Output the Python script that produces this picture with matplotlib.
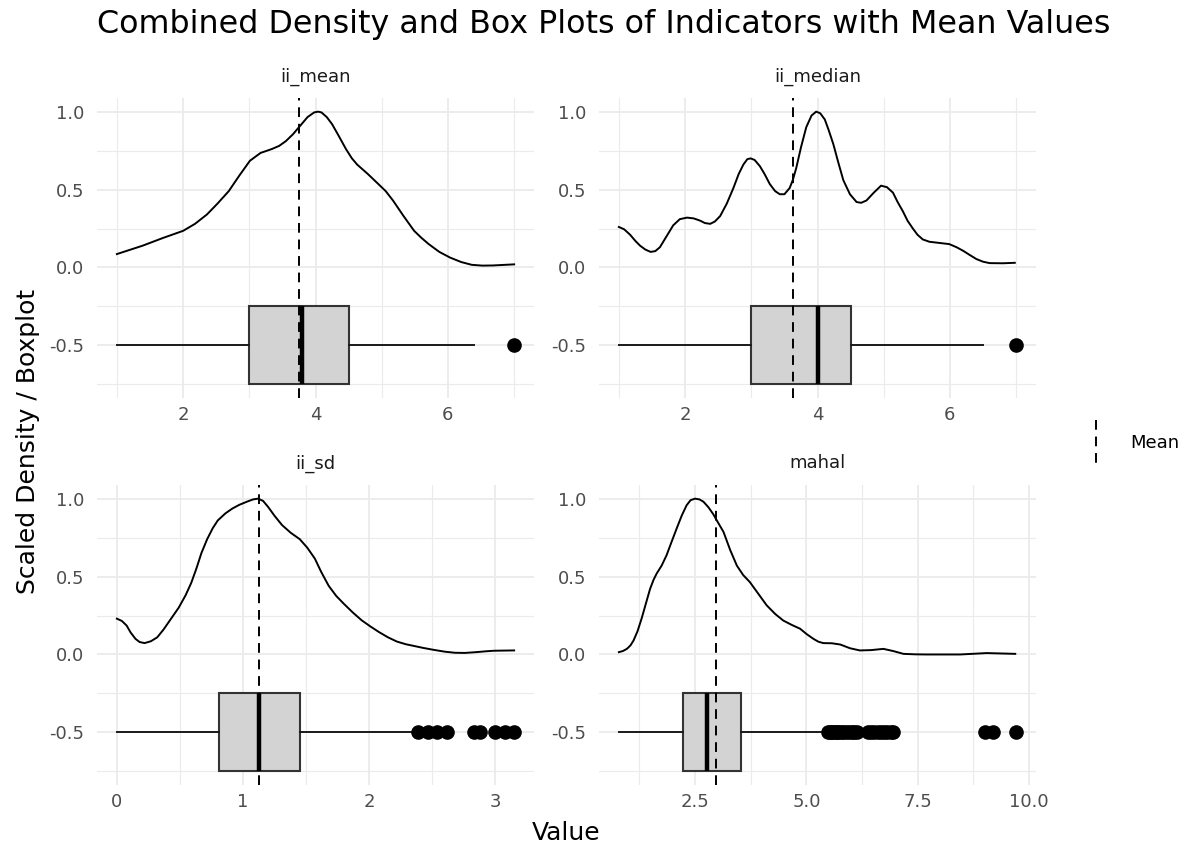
import matplotlib
matplotlib.use("Agg")
import matplotlib.pyplot as plt
from matplotlib.lines import Line2D
from matplotlib.ticker import MultipleLocator

# ---- data ----
panels = ["ii_mean", "ii_median", "ii_sd", "mahal"]

dens_ii_mean_x = [1.0, 1.39, 1.7, 2.0, 2.18, 2.36, 2.52, 2.69, 2.85, 3.01, 3.17, 3.34,
                  3.45, 3.55, 3.66, 3.77, 3.88, 3.98, 4.04, 4.09, 4.17, 4.25, 4.35,
                  4.46, 4.55, 4.63, 4.79, 4.95, 5.06, 5.17, 5.33, 5.49, 5.60, 5.71,
                  5.87, 6.03, 6.2, 6.36, 6.52, 6.68, 7.0]
dens_ii_mean_y = [0.086, 0.14, 0.19, 0.235, 0.28, 0.34, 0.41, 0.49, 0.59, 0.685, 0.735,
                  0.76, 0.78, 0.81, 0.855, 0.91, 0.965, 0.995, 1.0, 0.995, 0.965, 0.92,
                  0.845, 0.76, 0.70, 0.66, 0.60, 0.535, 0.49, 0.43, 0.33, 0.235, 0.19,
                  0.15, 0.10, 0.064, 0.035, 0.017, 0.012, 0.013, 0.02]

dens_ii_median_x = [1.0, 1.08, 1.17, 1.25, 1.32, 1.40, 1.48, 1.55, 1.62, 1.72, 1.82,
                    1.92, 2.03, 2.13, 2.23, 2.30, 2.38, 2.45, 2.53, 2.63, 2.73, 2.81,
                    2.88, 2.94, 2.99, 3.05, 3.13, 3.20, 3.28, 3.36, 3.43, 3.50, 3.58,
                    3.63, 3.68, 3.75, 3.83, 3.91, 3.98, 4.04, 4.11, 4.17, 4.24, 4.31,
                    4.39, 4.49, 4.59, 4.66, 4.74, 4.85, 4.96, 5.05, 5.14, 5.21, 5.29,
                    5.36, 5.44, 5.51, 5.59, 5.69, 5.79, 5.89, 5.99, 6.10, 6.20, 6.30,
                    6.40, 6.50, 6.60, 6.80, 6.98]
dens_ii_median_y = [0.26, 0.245, 0.21, 0.17, 0.14, 0.115, 0.10, 0.105, 0.13, 0.20, 0.27,
                    0.31, 0.32, 0.315, 0.30, 0.285, 0.28, 0.295, 0.33, 0.41, 0.51, 0.60,
                    0.66, 0.695, 0.70, 0.69, 0.65, 0.60, 0.535, 0.49, 0.47, 0.47, 0.51,
                    0.565, 0.64, 0.77, 0.90, 0.975, 1.0, 0.99, 0.95, 0.88, 0.79, 0.68,
                    0.56, 0.47, 0.42, 0.415, 0.43, 0.48, 0.525, 0.515, 0.48, 0.42, 0.36,
                    0.30, 0.25, 0.21, 0.18, 0.165, 0.16, 0.155, 0.15, 0.13, 0.107, 0.08,
                    0.054, 0.037, 0.028, 0.027, 0.03]

dens_ii_sd_x = [0.0, 0.04, 0.077, 0.11, 0.148, 0.18, 0.22, 0.27, 0.32, 0.37, 0.43,
                0.49, 0.545, 0.59, 0.63, 0.67, 0.716, 0.76, 0.80, 0.86, 0.915, 0.97,
                1.03, 1.08, 1.12, 1.16, 1.20, 1.25, 1.31, 1.38, 1.45, 1.51, 1.57,
                1.62, 1.68, 1.74, 1.80, 1.87, 1.94, 2.01, 2.08, 2.15, 2.22, 2.29,
                2.36, 2.43, 2.51, 2.6, 2.68, 2.76, 2.85, 2.92, 2.99, 3.15]
dens_ii_sd_y = [0.23, 0.215, 0.186, 0.14, 0.10, 0.08, 0.073, 0.085, 0.11, 0.16, 0.23,
                0.30, 0.38, 0.46, 0.55, 0.65, 0.74, 0.81, 0.86, 0.905, 0.936, 0.96,
                0.98, 0.995, 1.0, 0.985, 0.946, 0.89, 0.83, 0.78, 0.74, 0.685, 0.615,
                0.53, 0.44, 0.375, 0.325, 0.27, 0.22, 0.18, 0.143, 0.11, 0.083, 0.066,
                0.054, 0.042, 0.030, 0.018, 0.011, 0.01, 0.015, 0.02, 0.024, 0.026]

dens_mahal_x = [0.79, 0.88, 0.97, 1.05, 1.12, 1.21, 1.30, 1.40, 1.49, 1.57, 1.64,
                1.75, 1.86, 1.97, 2.09, 2.20, 2.31, 2.40, 2.5, 2.6, 2.69, 2.80, 2.91,
                3.02, 3.14, 3.29, 3.44, 3.58, 3.73, 3.92, 4.11, 4.30, 4.48, 4.67,
                4.86, 5.01, 5.16, 5.27, 5.38, 5.57, 5.76, 5.98, 6.20, 6.45, 6.73,
                6.95, 7.18, 7.44, 7.70, 8.45, 9.05, 9.69]
dens_mahal_y = [0.015, 0.022, 0.036, 0.058, 0.09, 0.15, 0.23, 0.33, 0.42, 0.48, 0.52,
                0.57, 0.636, 0.72, 0.81, 0.89, 0.957, 0.99, 1.0, 0.995, 0.98, 0.945,
                0.90, 0.845, 0.786, 0.67, 0.57, 0.51, 0.465, 0.39, 0.315, 0.26, 0.218,
                0.19, 0.165, 0.13, 0.10, 0.082, 0.073, 0.072, 0.064, 0.04, 0.026,
                0.028, 0.036, 0.022, 0.004, 0.001, 0.0, 0.0, 0.009, 0.004]

dens_x = [dens_ii_mean_x, dens_ii_median_x, dens_ii_sd_x, dens_mahal_x]
dens_y = [dens_ii_mean_y, dens_ii_median_y, dens_ii_sd_y, dens_mahal_y]

means = [3.75, 3.63, 1.13, 2.96]
box_q1 = [3.0, 3.0, 0.81, 2.22]
box_med = [3.8, 4.0, 1.13, 2.76]
box_q3 = [4.5, 4.5, 1.45, 3.53]
whisk_lo = [1.0, 1.0, 0.0, 0.79]
whisk_hi = [6.4, 6.5, 2.34, 5.38]
outliers = [
    [7.0],
    [7.0],
    [2.39, 2.47, 2.54, 2.62, 2.83, 2.88, 3.0, 3.08, 3.15],
    [5.49, 5.52, 5.56, 5.60, 5.64, 5.68, 5.72, 5.77, 5.82, 5.88, 5.95, 6.02, 6.08,
     6.13, 6.38, 6.45, 6.52, 6.60, 6.67, 6.75, 6.82, 6.90, 6.95, 9.01, 9.20, 9.71],
]

x_ticks = [[2, 4, 6], [2, 4, 6], [0, 1, 2, 3], [2.5, 5.0, 7.5, 10.0]]
x_tick_labels = [["2", "4", "6"], ["2", "4", "6"], ["0", "1", "2", "3"],
                 ["2.5", "5.0", "7.5", "10.0"]]
x_minor_step = [1, 1, 0.5, 1.25]
y_ticks = [-0.5, 0.0, 0.5, 1.0]
y_tick_labels = ["-0.5", "0.0", "0.5", "1.0"]

box_pos = -0.5
box_height = 0.5

# ---- layout (figure fractions) ----
W, H = 1193, 849
fig = plt.figure(figsize=(W / 100, H / 100), dpi=100)
plt.rcParams["font.family"] = ["DejaVu Sans"]

lefts = [97, 599, 97, 599]
tops = [98, 98, 485, 485]
pw, ph = 437, 300

grid_col = "#EBEBEB"
txt_col = "#4D4D4D"

for i, name in enumerate(panels):
    ax = fig.add_axes([lefts[i] / W, 1 - (tops[i] + ph) / H, pw / W, ph / H])
    for s in ax.spines.values():
        s.set_visible(False)

    ax.plot(dens_x[i], dens_y[i], color="black", lw=1.4, zorder=3,
            solid_joinstyle="round")

    stats = [{
        "med": box_med[i], "q1": box_q1[i], "q3": box_q3[i],
        "whislo": whisk_lo[i], "whishi": whisk_hi[i], "fliers": outliers[i],
    }]
    ax.bxp(stats, positions=[box_pos], widths=box_height, orientation="horizontal",
           showcaps=False, patch_artist=True, manage_ticks=False,
           boxprops=dict(facecolor="#D3D3D3", edgecolor="#333333", lw=1.5),
           whiskerprops=dict(color="#1a1a1a", lw=1.4),
           medianprops=dict(color="black", lw=3.2, solid_capstyle="butt"),
           flierprops=dict(marker="o", markerfacecolor="black",
                           markeredgecolor="black", markersize=9.5),
           zorder=4)

    ax.axvline(means[i], color="black", lw=1.4, ls=(0, (5, 3.5)), zorder=6)

    # ggplot-like 5% expansion
    xs = dens_x[i] + outliers[i] + [whisk_lo[i]]
    lo, hi = min(xs), max(xs)
    pad = (hi - lo) * 0.05
    ax.set_xlim(lo - pad, hi + pad)
    ax.set_ylim(-0.75 - 0.0875, 1.0 + 0.0875)

    ax.set_xticks(x_ticks[i])
    ax.set_xticklabels(x_tick_labels[i])
    ax.set_yticks(y_ticks)
    ax.set_yticklabels(y_tick_labels)
    ax.xaxis.set_minor_locator(MultipleLocator(x_minor_step[i]))
    ax.yaxis.set_minor_locator(MultipleLocator(0.25))
    ax.grid(which="major", color=grid_col, lw=1.3, zorder=0)
    ax.grid(which="minor", color=grid_col, lw=0.8, zorder=0)
    ax.set_axisbelow(True)
    ax.tick_params(which="both", length=0, labelsize=13, labelcolor=txt_col)
    ax.tick_params(axis="y", pad=9)
    ax.tick_params(axis="x", pad=6)

    ax.set_title(name, fontsize=13, color="#1A1A1A", pad=12)

fig.text(97 / W, 1 - 25 / H, "Combined Density and Box Plots of Indicators with Mean Values",
         fontsize=22.9, ha="left", va="center", color="black")
fig.text(28 / W, 1 - 441 / H, "Scaled Density / Boxplot", fontsize=18,
         rotation=90, ha="center", va="center", color="black")
fig.text(566 / W, 1 - 833 / H, "Value", fontsize=18, ha="center", va="center",
         color="black")

# legend key: vertical dashed line + label
fig.add_artist(Line2D([1096 / W, 1096 / W], [1 - 420 / H, 1 - 464 / H],
                      transform=fig.transFigure, color="black", lw=1.4,
                      ls=(0, (5, 3.5))))
fig.text(1130 / W, 1 - 443 / H, "Mean", fontsize=13, ha="left", va="center",
         color="black")

fig.savefig("out.png", dpi=100, facecolor="white")
